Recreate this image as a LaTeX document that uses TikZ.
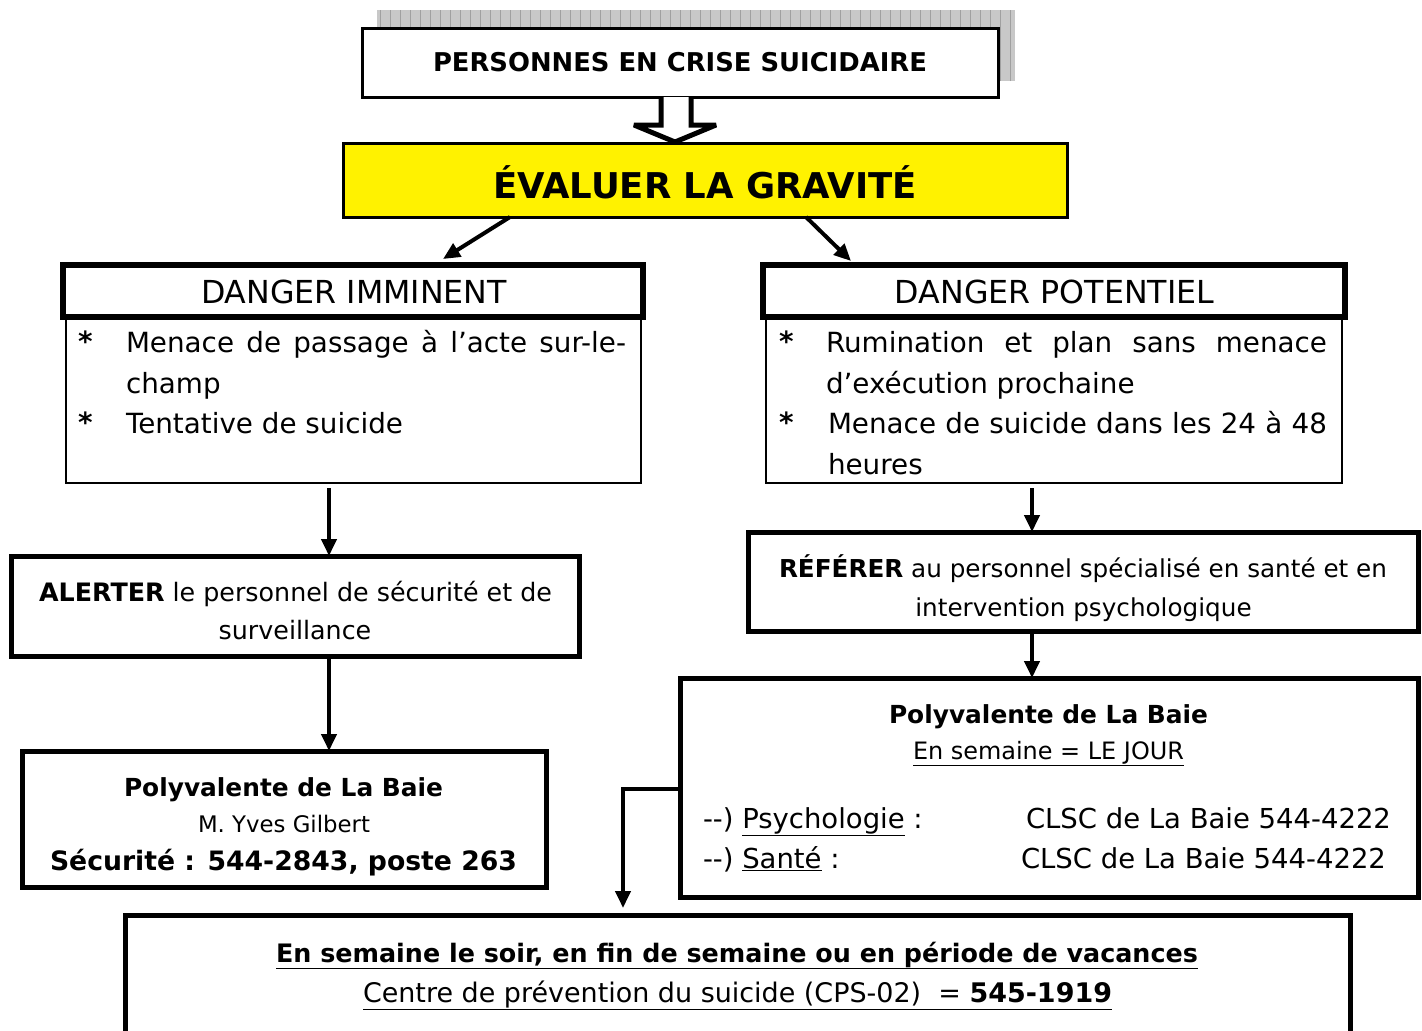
\documentclass[tikz,border=0pt]{standalone}
\usepackage{fontspec}
\setmainfont{DejaVu Sans}
\usetikzlibrary{arrows.meta}
\newlength\mylen
\newcommand\fitsize[3]{\settowidth\mylen{\normalfont\fontsize{10pt}{12pt}\selectfont #3}\pgfmathsetmacro#1{10*#2/\mylen}}
\newcommand\fsz[1]{\fontsize{#1pt}{#1pt}\selectfont}
\definecolor{shadowgray}{HTML}{C8C8C8}
\definecolor{gridgray}{HTML}{A0A0A0}
\tikzset{
  box/.style={draw, line width=#1, inner sep=0pt, outer sep=0pt, anchor=north west},
  txt/.style={inner sep=0pt, outer sep=0pt},
  arr/.style={line width=4pt, -{Triangle[length=17pt,width=15pt]}},
  star/.style={inner sep=0pt, outer sep=0pt, anchor=base west, font=\bfseries},
}
\begin{document}
\fitsize{\szTop}{494}{\bfseries PERSONNES EN CRISE SUICIDAIRE}%
\fitsize{\szEval}{424}{\bfseries ÉVALUER LA GRAVITÉ}%
\fitsize{\szDang}{306}{DANGER IMMINENT}%
\fitsize{\szList}{277}{Tentative de suicide}%
\fitsize{\szAlert}{513}{\textbf{ALERTER} le personnel de sécurité et de}%
\fitsize{\szRef}{608}{\textbf{RÉFÉRER} au personnel spécialisé en santé et en}%
\fitsize{\szPoly}{319}{\bfseries Polyvalente de La Baie}%
\fitsize{\szYves}{172}{M. Yves Gilbert}%
\fitsize{\szSec}{467}{\bfseries Sécurité : 544-2843, poste 263}%
\fitsize{\szJour}{271}{En semaine = LE JOUR}%
\fitsize{\szClsc}{365}{CLSC de La Baie 544-4222}%
\fitsize{\szBotA}{922}{\bfseries En semaine le soir, en fin de semaine ou en période de vacances}%
\fitsize{\szBotB}{749}{Centre de prévention du suicide (CPS-02)\ \ = \textbf{545-1919}}%
\begin{tikzpicture}[x=1pt,y=-1pt]
\useasboundingbox (0,0) rectangle (1422,1031);
\clip (0,0) rectangle (1422,1031);
\fill[white] (0,0) rectangle (1422,1031);

% shadow of top box
\fill[shadowgray] (377,10) rectangle (1015,81);
\draw[gridgray, line width=0.8pt, step=10] (377,10) grid (1015,81);

% boxes
\node[box=3pt, fill=white, minimum width=636pt, minimum height=69pt] (top) at (362,28) {};
\node[box=3pt, fill=yellow, minimum width=724pt, minimum height=74pt] (eval) at (343,143) {};
\node[box=2pt, minimum width=575pt, minimum height=166pt] (dib) at (66,317) {};
\node[box=6pt, fill=white, minimum width=580pt, minimum height=52pt] (dih) at (63,265) {};
\node[box=2pt, minimum width=576pt, minimum height=166pt] (dpb) at (766,317) {};
\node[box=6pt, fill=white, minimum width=582pt, minimum height=52pt] (dph) at (763,265) {};
\node[box=5pt, minimum width=568pt, minimum height=100pt] (alert) at (11,556) {};
\node[box=5pt, minimum width=670pt, minimum height=99pt] (refer) at (748,532) {};
\node[box=5pt, minimum width=524pt, minimum height=136pt] (polyL) at (22,751) {};
\node[box=5pt, minimum width=738pt, minimum height=219pt] (polyR) at (680,678) {};
\node[box=5pt, minimum width=1225pt, minimum height=150pt] (night) at (125,915) {};

% hollow arrow top -> eval
\draw[line width=5pt, fill=white, line join=miter, miter limit=4]
  (661,97) -- (661,125) -- (634,125) -- (675,142) -- (716,125) -- (691,125) -- (691,97);

% coordinates for connectors
\coordinate (dl1) at (510,218);
\coordinate (dl2) at (443,259);
\coordinate (dr1) at (806,218);
\coordinate (dr2) at (851,261);
\coordinate (ax) at (329,0);
\coordinate (bx) at (1032,0);
\coordinate (cx) at (623,0);
\coordinate (cy) at (0,789);

\draw[arr] (eval.south -| dl1) -- (dl2);
\draw[arr] (eval.south -| dr1) -- (dr2);
\draw[arr] ([yshift=-5pt]dib.south -| ax) -- (alert.north -| ax);
\draw[arr] (alert.south -| ax) -- (polyL.north -| ax);
\draw[arr] ([yshift=-5pt]dpb.south -| bx) -- (refer.north -| bx);
\draw[arr] (refer.south -| bx) -- (polyR.north -| bx);
\draw[arr] (polyR.west |- cy) -| ([yshift=7pt]night.north -| cx);

% texts
\node[txt, anchor=base] (tTop) at (680,71) {\fsz{\szTop}\bfseries PERSONNES EN CRISE SUICIDAIRE};
\node[txt, anchor=base] (tEval) at (705,198) {\fsz{\szEval}\bfseries ÉVALUER LA GRAVITÉ};
\node[txt, anchor=base] (tDI) at (354,303) {\fsz{\szDang}DANGER IMMINENT};
\node[txt, anchor=base] (tDP) at (1054.5,303) {\fsz{\szDang}DANGER POTENTIEL};

\node[star] (s1) at (78,351) {\fsz{\szList}\bfseries *};
\node[txt, anchor=base west] (l1) at (126,352) {\fsz{\szList}\makebox[500pt][s]{Menace de passage à l’acte sur-le-}};
\node[txt, anchor=base west] (l2) at (126,393) {\fsz{\szList}champ};
\node[star] (s2) at (78,432) {\fsz{\szList}\bfseries *};
\node[txt, anchor=base west] (l3) at (126,433) {\fsz{\szList}Tentative de suicide};

\node[star] (s3) at (779,351) {\fsz{\szList}\bfseries *};
\node[txt, anchor=base west] (r1) at (826,352) {\fsz{\szList}\makebox[501pt][s]{Rumination et plan sans menace}};
\node[txt, anchor=base west] (r2) at (826,393) {\fsz{\szList}d’exécution prochaine};
\node[star] (s4) at (779,432) {\fsz{\szList}\bfseries *};
\node[txt, anchor=base west] (r3) at (828,433) {\fsz{\szList}\makebox[499pt][s]{Menace de suicide dans les 24 à 48}};
\node[txt, anchor=base west] (r4) at (828,474) {\fsz{\szList}heures};

\node[txt, anchor=base] (a1) at (295.5,601) {\fsz{\szAlert}\textbf{ALERTER} le personnel de sécurité et de};
\node[txt, anchor=base] (a2) at (295,639) {\fsz{\szAlert}surveillance};

\node[txt, anchor=base] (f1) at (1083,577) {\fsz{\szRef}\textbf{RÉFÉRER} au personnel spécialisé en santé et en};
\node[txt, anchor=base] (f2) at (1083.5,616) {\fsz{\szRef}intervention psychologique};

\node[txt, anchor=base] (p1) at (283.5,796) {\fsz{\szPoly}\bfseries Polyvalente de La Baie};
\node[txt, anchor=base] (p2) at (284,832) {\fsz{\szYves}M. Yves Gilbert};
\node[txt, anchor=base] (p3) at (283.5,870) {\fsz{\szSec}\bfseries Sécurité : 544-2843, poste 263};

\node[txt, anchor=base] (q1) at (1048.5,723) {\fsz{\szPoly}\bfseries Polyvalente de La Baie};
\node[txt, anchor=base] (q2) at (1048.5,759) {\fsz{\szJour}\underline{En semaine = LE JOUR}};
\node[txt, anchor=base west] (q3) at (703,828) {\fsz{\szClsc}-{}-) \underline{Psychologie} :};
\node[txt, anchor=base west] (q4) at (1026,828) {\fsz{\szClsc}CLSC de La Baie 544-4222};
\node[txt, anchor=base west] (q5) at (703,868) {\fsz{\szClsc}-{}-) \underline{Santé} :};
\node[txt, anchor=base west] (q6) at (1021,868) {\fsz{\szClsc}CLSC de La Baie 544-4222};

\node[txt, anchor=base] (n1) at (737,962) {\fsz{\szBotA}\underline{\bfseries En semaine le soir, en fin de semaine ou en période de vacances}};
\node[txt, anchor=base] (n2) at (737.5,1002) {\fsz{\szBotB}\underline{Centre de prévention du suicide (CPS-02)\ \ = \textbf{545-1919}}};
\end{tikzpicture}
\end{document}
